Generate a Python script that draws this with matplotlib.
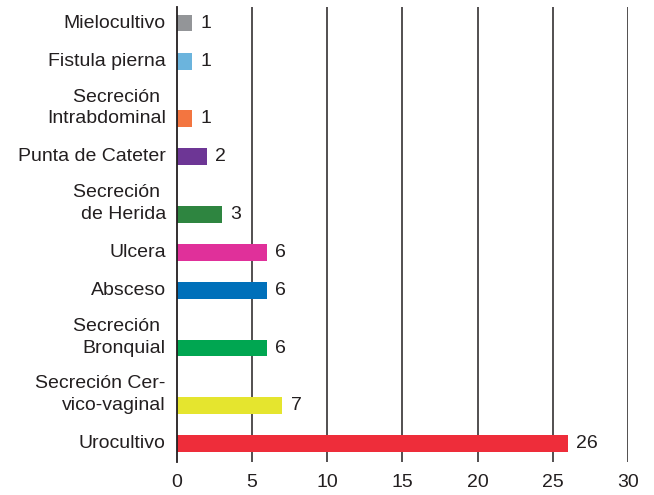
import matplotlib.pyplot as plt
from matplotlib.transforms import blended_transform_factory

# -----------------------------
# DATA
# -----------------------------
labels = [
    "Mielocultivo",
    "Fistula pierna",
    "Secreción \nIntrabdominal",
    "Punta de Cateter",
    "Secreción \nde Herida",
    "Ulcera",
    "Absceso",
    "Secreción \nBronquial",
    "Secreción Cer-\nvico-vaginal",
    "Urocultivo",
]
values = [1, 1, 1, 2, 3, 6, 6, 6, 7, 26]
colors = [
    "#939598", "#6BB4DD", "#F37540", "#6D3695", "#2E8540",
    "#E0309A", "#0070BA", "#00A651", "#E5E52E", "#EE2D3A",
]
xticks = [0, 5, 10, 15, 20, 25, 30]

TEXT = "#231f20"
FONT = "Liberation Sans"

# rows with two-line labels get extra room above them
positions = []
y = 0.0
for i, lab in enumerate(labels):
    if i > 0:
        y += 1.0 + 0.5 * (lab.count("\n"))
    positions.append(y)


def main():
    plt.rcParams["font.family"] = [FONT, "DejaVu Sans"]

    fig = plt.figure(figsize=(6.54, 4.95), dpi=100)
    ax = fig.add_axes([0.2706, 0.0667, 0.6894, 0.9192])

    ax.barh(positions, values, height=0.44, color=colors, zorder=3)

    ax.set_xlim(0, 30)
    ax.set_ylim(positions[-1] + 0.48, -0.42)

    # vertical grid lines
    for xt in xticks[1:]:
        ax.axvline(xt, color=TEXT, linewidth=1.1, zorder=1)

    for side in ["top", "right", "bottom"]:
        ax.spines[side].set_visible(False)
    ax.spines["left"].set_color(TEXT)
    ax.spines["left"].set_linewidth(1.3)
    ax.spines["left"].set_zorder(4)

    ax.set_xticks(xticks)
    ax.set_xticklabels([str(t) for t in xticks])
    ax.tick_params(axis="x", length=0, pad=9, labelsize=14, labelcolor=TEXT)
    ax.set_yticks([])

    # category labels: last line sits on the bar, earlier lines above it
    trans = blended_transform_factory(ax.transAxes, ax.transData)
    for pos, lab in zip(positions, labels):
        lines = lab.split("\n")
        n = len(lines)
        for k, line in enumerate(lines):
            ax.annotate(
                line, xy=(0, pos), xycoords=trans,
                xytext=(-8, 15.5 * (n - 1 - k)), textcoords="offset points",
                ha="right", va="center", fontsize=14, color=TEXT,
            )

    # value labels
    for pos, v in zip(positions, values):
        ax.annotate(
            str(v), xy=(v, pos), xytext=(6, 0), textcoords="offset points",
            ha="left", va="center", fontsize=14, color=TEXT,
        )

    fig.savefig("out.png", dpi=100)
    plt.close(fig)


if __name__ == "__main__":
    main()
